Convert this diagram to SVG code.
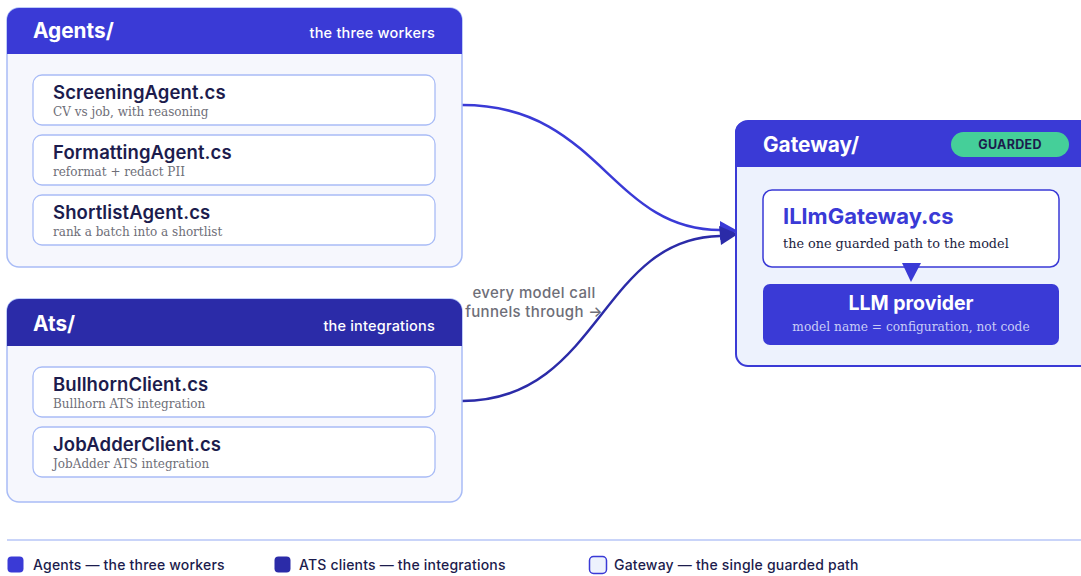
<svg xmlns="http://www.w3.org/2000/svg" width="1081" height="576" viewBox="0 0 1081 576">
<defs>
<style>
.box{fill:#f6f7fd;stroke:#a9bcf6;stroke-width:1.5}
.card{fill:#ffffff;stroke:#a9bcf6;stroke-width:1.3}
.h{font-family:Inter,"Noto Sans",sans-serif;font-weight:700;fill:#ffffff;font-size:20.8px}
.hs{font-family:Inter,"Noto Sans",sans-serif;font-weight:500;fill:#ffffff;font-size:14.5px;letter-spacing:0.2px}
.t{font-family:Inter,"Noto Sans",sans-serif;font-weight:600;fill:#1c1c4d;font-size:18.5px;letter-spacing:0.1px}
.s{font-family:"DejaVu Serif","Liberation Serif",serif;fill:#6e6e78;font-size:12px}
.lg{font-family:Inter,"Noto Sans",sans-serif;font-weight:500;fill:#1c1c4d;font-size:14px;letter-spacing:0.2px}
.lbl{font-family:Inter,"Noto Sans",sans-serif;font-weight:500;fill:#6e6e78;font-size:15px;letter-spacing:0.35px}
</style>
</defs>

<g id="connectors" fill="none" stroke-width="2.5">
<path d="M462,105 C600,105 610,230 720,230" stroke="#3a3ad6"/>
<path d="M720,221 L738,231 L720,240 z" fill="#3a3ad6" stroke="none"/>
<path d="M462,401 C600,401 600,238 720,236" stroke="#2b2ba8"/>
<path d="M719,226 L738,234 L721,245 z" fill="#2b2ba8" stroke="none"/>
<text class="lbl" x="534" y="298" text-anchor="middle" stroke="none">every model call</text>
<text class="lbl" x="534" y="317" text-anchor="middle" stroke="none">funnels through →</text>
</g>

<g id="agents">
<rect class="box" x="7" y="8" width="455" height="259" rx="12"/>
<path d="M7,20 a12,12 0 0 1 12,-12 h431 a12,12 0 0 1 12,12 v34 h-455 z" fill="#3a3ad6"/>
<text class="h" x="33" y="38">Agents/</text>
<text class="hs" x="435" y="38" text-anchor="end">the three workers</text>
<g id="screening">
<rect class="card" x="33" y="75" width="402" height="50" rx="9"/>
<text class="t" x="53" y="99">ScreeningAgent.cs</text>
<text class="s" x="53" y="116">CV vs job, with reasoning</text>
</g>
<g id="formatting">
<rect class="card" x="33" y="135" width="402" height="50" rx="9"/>
<text class="t" x="53" y="159">FormattingAgent.cs</text>
<text class="s" x="53" y="176">reformat + redact PII</text>
</g>
<g id="shortlist">
<rect class="card" x="33" y="195" width="402" height="50" rx="9"/>
<text class="t" x="53" y="219">ShortlistAgent.cs</text>
<text class="s" x="53" y="236">rank a batch into a shortlist</text>
</g>
</g>

<g id="ats">
<rect class="box" x="7" y="299" width="455" height="203" rx="12"/>
<path d="M7,311 a12,12 0 0 1 12,-12 h431 a12,12 0 0 1 12,12 v35 h-455 z" fill="#2b2ba8"/>
<text class="h" x="33" y="331">Ats/</text>
<text class="hs" x="435" y="331" text-anchor="end">the integrations</text>
<g id="bullhorn">
<rect class="card" x="33" y="367" width="402" height="50" rx="9"/>
<text class="t" x="53" y="391">BullhornClient.cs</text>
<text class="s" x="53" y="408">Bullhorn ATS integration</text>
</g>
<g id="jobadder">
<rect class="card" x="33" y="427" width="402" height="50" rx="9"/>
<text class="t" x="53" y="451">JobAdderClient.cs</text>
<text class="s" x="53" y="468">JobAdder ATS integration</text>
</g>
</g>

<g id="gateway">
<rect x="736" y="121" width="356" height="245" rx="12" fill="#edf2fd" stroke="#3a3ad6" stroke-width="2"/>
<path d="M735,133 a12,12 0 0 1 12,-12 h340 v46 h-352 z" fill="#3a3ad6"/>
<text class="h" x="763" y="152">Gateway/</text>
<rect x="951" y="132" width="118" height="25" rx="12.5" fill="#45cf99"/>
<text x="1010" y="149" text-anchor="middle" font-family="Inter,'Noto Sans',sans-serif" font-weight="700" font-size="12.5" letter-spacing="0.3" fill="#1c1c4d">GUARDED</text>
<g id="illm">
<rect x="763" y="190" width="296" height="77" rx="9" fill="#ffffff" stroke="#3a3ad6" stroke-width="1.5"/>
<text x="783" y="224" font-family="Inter,'Noto Sans',sans-serif" font-weight="700" font-size="22" fill="#3a3ad6">ILlmGateway.cs</text>
<text x="783" y="248" font-family="'DejaVu Serif','Liberation Serif',serif" font-size="12.8" fill="#1c1c3e">the one guarded path to the model</text>
</g>
<path d="M902,263 L921,263 L911,282 z" fill="#3a3ad6"/>
<g id="llm">
<rect x="763" y="284" width="296" height="61" rx="7" fill="#3a3ad6"/>
<text x="911" y="310" text-anchor="middle" font-family="Inter,'Noto Sans',sans-serif" font-weight="700" font-size="19.5" fill="#ffffff">LLM provider</text>
<text x="911" y="331" text-anchor="middle" font-family="'DejaVu Serif','Liberation Serif',serif" font-size="12.2" fill="#c9cdf6">model name = configuration, not code</text>
</g>
</g>

<g id="legend">
<line x1="7" y1="540" x2="1081" y2="540" stroke="#b7c6f7" stroke-width="1.5"/>
<rect x="7.5" y="556.5" width="16" height="16" rx="4" fill="#3a3ad6"/>
<text class="lg" x="33" y="570">Agents — the three workers</text>
<rect x="274.5" y="556.5" width="16" height="16" rx="4" fill="#2b2ba8"/>
<text class="lg" x="299" y="570">ATS clients — the integrations</text>
<rect x="589.5" y="556.5" width="17" height="17" rx="4" fill="#edf2fd" stroke="#3a3ad6" stroke-width="1.5"/>
<text class="lg" x="614" y="570">Gateway — the single guarded path</text>
</g>
</svg>
